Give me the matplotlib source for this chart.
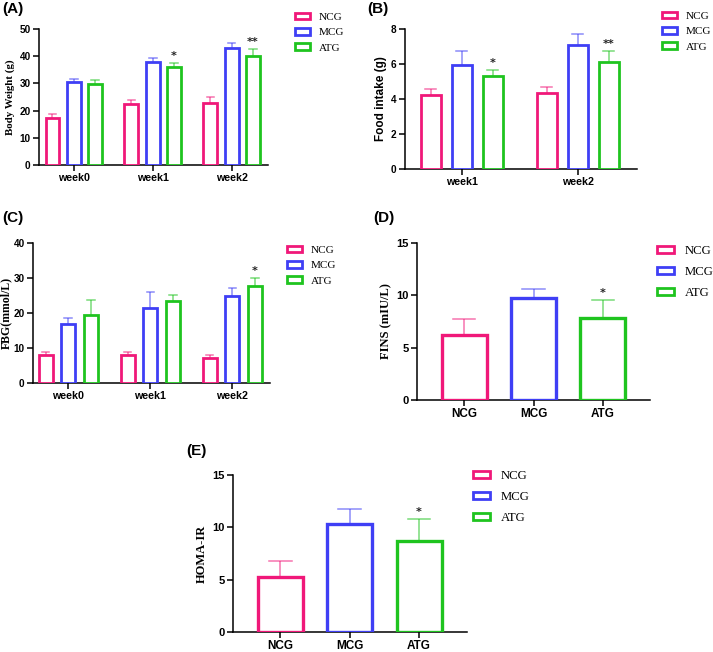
import matplotlib
matplotlib.use("Agg")
import matplotlib.pyplot as plt
import numpy as np
from matplotlib.patches import Patch

groups = ["NCG", "MCG", "ATG"]
colors = ["#F01879", "#3F3FF5", "#1FC41F"]

# Panel A: Body weight
weeks_a = ["week0", "week1", "week2"]
bw_mean = {"NCG": [17.3, 22.3, 22.8], "MCG": [30.6, 37.7, 42.9], "ATG": [29.7, 35.9, 40.0]}
bw_err = {"NCG": [1.4, 1.5, 2.3], "MCG": [1.1, 1.6, 1.8], "ATG": [1.5, 1.6, 2.6]}
bw_star = {"ATG": ["", "*", "**"]}

# Panel B: Food intake
weeks_b = ["week1", "week2"]
fi_mean = {"NCG": [4.24, 4.32], "MCG": [5.93, 7.09], "ATG": [5.30, 6.10]}
fi_err = {"NCG": [0.32, 0.36], "MCG": [0.82, 0.63], "ATG": [0.35, 0.65]}
fi_star = {"ATG": ["*", "**"]}

# Panel C: FBG
weeks_c = ["week0", "week1", "week2"]
fbg_mean = {"NCG": [7.9, 8.1, 7.2], "MCG": [16.8, 21.4, 25.0], "ATG": [19.4, 23.4, 27.6]}
fbg_err = {"NCG": [1.0, 0.9, 0.8], "MCG": [1.8, 4.6, 2.1], "ATG": [4.3, 1.7, 2.4]}
fbg_star = {"ATG": ["", "", "*"]}

# Panel D: FINS
fins_mean = [6.2, 9.7, 7.86]
fins_err = [1.53, 0.94, 1.69]
fins_star = ["", "", "*"]

# Panel E: HOMA-IR
homa_mean = [5.21, 10.33, 8.71]
homa_err = [1.56, 1.46, 2.09]
homa_star = ["", "", "*"]

fig = plt.figure(figsize=(7.13, 6.52), dpi=100)
W, H = 713, 652

def add_ax(l, r, t, b):
    return fig.add_axes([l / W, 1 - b / H, (r - l) / W, (b - t) / H])

tick_font = dict(family="Liberation Sans", weight="bold")
serif = "Liberation Serif"

def style(ax, ylim, yticks, xlim, xticks, xlabels, ylabel, yl_family, yl_size, tsize_y, tsize_x, lpad=3):
    ax.set_ylim(*ylim)
    ax.set_yticks(yticks)
    ax.set_xlim(*xlim)
    ax.set_xticks(xticks)
    ax.set_xticklabels(xlabels, fontsize=tsize_x, **tick_font)
    ax.set_yticklabels([str(v) for v in yticks], fontsize=tsize_y, **tick_font)
    for s in ["top", "right"]:
        ax.spines[s].set_visible(False)
    for s in ["left", "bottom"]:
        ax.spines[s].set_linewidth(1.1)
    ax.tick_params(axis="both", direction="out", length=4, width=1.1, pad=2)
    ax.set_ylabel(ylabel, family=yl_family, weight="bold", fontsize=yl_size, labelpad=lpad)

def draw_bar(ax, x, h, e, color, width, lw=2.0, star="", capfrac=0.55):
    ax.bar(x, h, width=width, facecolor="white", edgecolor=color, linewidth=lw, zorder=3)
    ax.errorbar(x, h, yerr=[[0], [e]], fmt="none", ecolor=color, alpha=0.6,
                elinewidth=1.1, capsize=0, zorder=2)
    ax.plot([x - width * capfrac / 2, x + width * capfrac / 2], [h + e, h + e],
            color=color, alpha=0.6, lw=1.1, zorder=2)
    if star:
        ax.annotate(star, (x, h + e), xytext=(0, 1.5), textcoords="offset points",
                    ha="center", va="bottom", fontsize=8, fontweight="bold", color="#222222")

def legend(ax, x, y, fs, spacing):
    handles = [Patch(facecolor="white", edgecolor=c, linewidth=2.0, label=g) for g, c in zip(groups, colors)]
    ax.legend(handles=handles, loc="upper left", bbox_to_anchor=(x / W, 1 - y / H),
              bbox_transform=fig.transFigure, frameon=False,
              prop=dict(family=serif, size=fs), handlelength=1.35, handleheight=0.5,
              handletextpad=0.8, labelspacing=spacing, borderpad=0, borderaxespad=0)

def grouped(ax, labels, means, errs, stars, offset, width):
    x = np.arange(len(labels))
    for i, g in enumerate(groups):
        for j in range(len(labels)):
            st = stars.get(g, [""] * len(labels))[j]
            draw_bar(ax, x[j] + (i - 1) * offset, means[g][j], errs[g][j], colors[i], width, star=st)
    return x

# (A)
axA = add_ax(39, 268, 29, 165)
xa = grouped(axA, weeks_a, bw_mean, bw_err, bw_star, 0.27, 0.175)
style(axA, (0, 50), [0, 10, 20, 30, 40, 50], (-0.44, 2.46), xa, weeks_a,
      "Body Weight (g)", serif, 7.8, 7.2, 7.7)
legend(axA, 295, 13, 8, 0.55)

# (B)
axB = add_ax(405, 637, 29, 169)
xb = grouped(axB, weeks_b, fi_mean, fi_err, fi_star, 0.267, 0.17)
style(axB, (0, 8), [0, 2, 4, 6, 8], (-0.49, 1.51), xb, weeks_b,
      "Food intake (g)", "Liberation Sans", 8.5, 7.2, 7.7)
legend(axB, 662, 12, 8, 0.55)

# (C)
axC = add_ax(33, 270, 243, 383)
xc = grouped(axC, weeks_c, fbg_mean, fbg_err, fbg_star, 0.275, 0.167)
style(axC, (0, 40), [0, 10, 20, 30, 40], (-0.43, 2.46), xc, weeks_c,
      "FBG(mmol/L)", serif, 8.5, 7.2, 7.7, lpad=1)
legend(axC, 287, 246, 8, 0.55)

# (D)
axD = add_ax(417, 650, 243, 400)
xd = np.arange(3)
for i in range(3):
    draw_bar(axD, xd[i], fins_mean[i], fins_err[i], colors[i], 0.65, lw=2.4, star=fins_star[i], capfrac=0.5)
style(axD, (0, 15), [0, 5, 10, 15], (-0.68, 2.68), xd, groups,
      "FINS (mIU/L)", serif, 9, 8, 8.5)
legend(axD, 657, 245, 9.2, 0.7)

# (E)
axE = add_ax(233, 467, 475, 632)
xe = np.arange(3)
for i in range(3):
    draw_bar(axE, xe[i], homa_mean[i], homa_err[i], colors[i], 0.65, lw=2.4, star=homa_star[i], capfrac=0.5)
style(axE, (0, 15), [0, 5, 10, 15], (-0.68, 2.69), xe, groups,
      "HOMA-IR", serif, 9, 8, 8.5)
legend(axE, 473, 470, 9.2, 0.7)

# panel labels
for lab, x, y in [("(A)", 2, 9), ("(B)", 367, 9), ("(C)", 2, 218), ("(D)", 373, 218), ("(E)", 186, 451)]:
    fig.text(x / W, 1 - y / H, lab, family="Liberation Sans", weight="bold", fontsize=11, va="center", ha="left")

fig.savefig("out.png", dpi=100)
